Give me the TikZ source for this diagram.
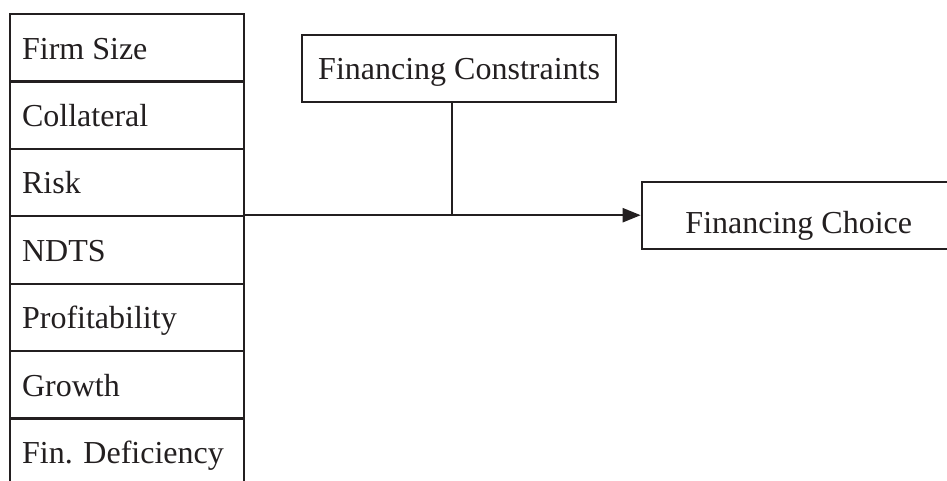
\documentclass[tikz,border=0pt]{standalone}
\usepackage{fontspec}
\setmainfont{Liberation Serif}
\usetikzlibrary{arrows.meta}
\definecolor{ink}{RGB}{35,31,32}
\tikzset{
  lbl/.style={font=\fontsize{32}{38}\selectfont, text=ink},
  rowbox/.style={lbl, draw=ink, line width=2.2pt, anchor=north west,
    minimum width=233.7pt, minimum height=67.4pt, text width=209.7pt,
    align=flush left, inner xsep=12pt, inner ysep=0pt, text height=22.6pt, text depth=0pt},
  bigbox/.style={lbl, draw=ink, line width=2.2pt, inner sep=0pt, align=center},
  conn/.style={draw=ink, line width=2.2pt},
}
\begin{document}
\begin{tikzpicture}[x=1pt,y=-1pt]
\clip (0,0) rectangle (947,481);
\useasboundingbox (0,0) rectangle (947,481);
\fill[white] (0,0) rectangle (947,481);
\node[rowbox] (r1) at (9,13.0) {Firm Size};
\node[rowbox] (r2) at (9,80.4) {Collateral};
\node[rowbox] (r3) at (9,147.8) {Risk};
\node[rowbox] (r4) at (9,215.2) {NDTS};
\node[rowbox] (r5) at (9,282.6) {Profitability};
\node[rowbox] (r6) at (9,350.0) {Growth};
\node[rowbox] (r7) at (9,417.4) {Fin. Deficiency};
\node[bigbox, minimum width=314pt, minimum height=66.7pt, anchor=north west,
  text height=22.6pt, text depth=0pt] (fc) at (301,34) {Financing Constraints};
\node[bigbox, minimum width=314pt, minimum height=67pt, anchor=west,
  text height=36pt, text depth=0pt] (ch) at (640.7,215.2) {Financing Choice};
\coordinate (j) at (452,215.2);
\path[conn, -{Triangle[length=18pt,width=14pt]}] (r3.east |- ch.west) -- (ch.west);
\path[conn] (fc.south -| j) -- (j);
\end{tikzpicture}
\end{document}
